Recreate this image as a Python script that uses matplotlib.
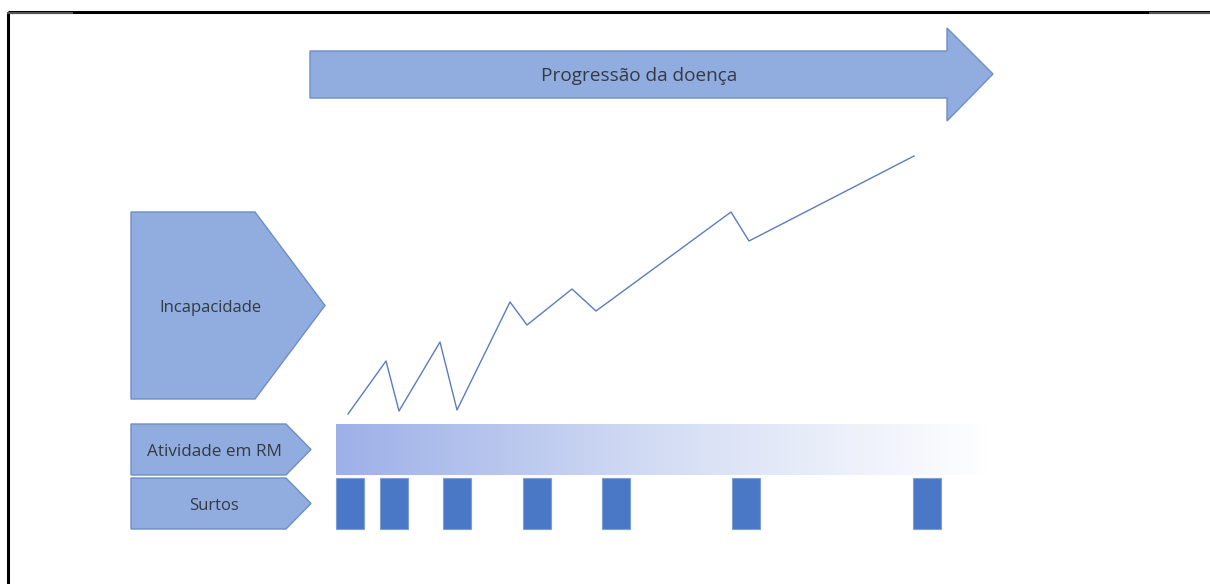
import numpy as np
import matplotlib
matplotlib.use("Agg")
import matplotlib.pyplot as plt
from matplotlib.patches import Polygon, Rectangle
from matplotlib.colors import LinearSegmentedColormap

# Diagram labels
arrow_label = "Progressão da doença"
row_labels = ["Incapacidade", "Atividade em RM", "Surtos"]

# Disability curve (pixel-space coordinates on the canvas)
curve_x = [348, 386, 399, 440, 457, 510, 527, 572, 596, 731, 749, 914]
curve_y = [414, 361, 411, 342, 410, 302, 325, 289, 311, 212, 241, 156]

# Relapse blocks: left edge of each block
relapse_x = [336, 380, 443, 523, 602, 732, 913]
relapse_w = 28

fill_col = "#91ACDE"
edge_col = "#6F8DC6"
text_col = "#333A44"
bar_col = "#4A78C6"

fig = plt.figure(figsize=(12.1, 5.84), dpi=100)
ax = fig.add_axes([0, 0, 1, 1])
ax.set_xlim(0, 1210)
ax.set_ylim(584, 0)
ax.axis("off")

# Frame lines
ax.plot([8, 1210], [12, 12], color="black", lw=2.2, solid_capstyle="butt")
ax.plot([8, 8], [12, 584], color="black", lw=2.2, solid_capstyle="butt")
ax.plot([8, 72], [13, 13], color="#555555", lw=1.5)
ax.plot([1150, 1210], [13, 13], color="#555555", lw=1.5)


def chevron(x0, x1, xs, y0, y1):
    # Pentagon pointing right: straight body up to xs, then a tip at x1
    ym = (y0 + y1) / 2
    return Polygon([(x0, y0), (xs, y0), (x1, ym), (xs, y1), (x0, y1)],
                   closed=True, facecolor=fill_col, edgecolor=edge_col, lw=1.0)


# Big progression arrow
arrow = Polygon([(310, 51), (947, 51), (947, 28), (993, 74), (947, 121),
                 (947, 98), (310, 98)],
                closed=True, facecolor=fill_col, edgecolor=edge_col, lw=1.0)
ax.add_patch(arrow)
ax.text(639, 76, arrow_label, ha="center", va="center", fontsize=13.7,
        family="Open Sans", color=text_col)

# Row labels
ax.add_patch(chevron(131, 325, 255, 212, 399))
ax.text(210, 307.5, row_labels[0], ha="center", va="center", fontsize=12,
        family="Open Sans", color=text_col)
ax.add_patch(chevron(131, 311, 286, 424, 475))
ax.text(214.5, 452.5, row_labels[1], ha="center", va="center", fontsize=12.3,
        family="Open Sans", color=text_col)
ax.add_patch(chevron(131, 311, 286, 478, 529))
ax.text(214.5, 505.5, row_labels[2], ha="center", va="center", fontsize=12,
        family="Open Sans", color=text_col)

# MRI activity: gradient band fading to white
grad = LinearSegmentedColormap.from_list("mri", ["#9DB0E8", "#D4DDF4", "#FFFFFF"])
ax.imshow(np.linspace(0, 1, 256)[None, :], cmap=grad, aspect="auto",
          extent=[336, 990, 475, 424], interpolation="bilinear", zorder=1)
ax.set_xlim(0, 1210)
ax.set_ylim(584, 0)

# Relapses
for x in relapse_x:
    ax.add_patch(Rectangle((x, 478), relapse_w, 51, facecolor=bar_col,
                           edgecolor="#7D9FD8", lw=0.8, zorder=2))

# Disability curve
ax.plot(curve_x, curve_y, color="#5A7DBE", lw=1.0, zorder=3)

fig.savefig("out.png", dpi=100)
